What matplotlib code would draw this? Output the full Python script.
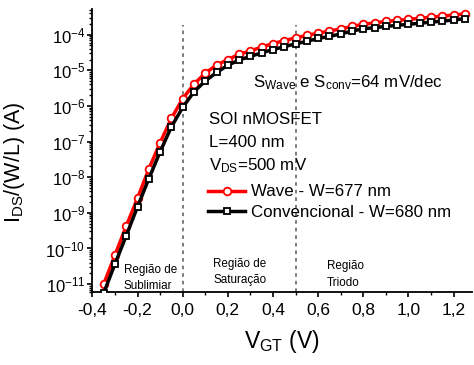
import numpy as np
import matplotlib
matplotlib.use("Agg")
import matplotlib.pyplot as plt
from matplotlib.ticker import FuncFormatter, MultipleLocator, FixedLocator, NullFormatter

plt.rcParams['font.family'] = ['Liberation Sans', 'DejaVu Sans']
plt.rcParams['mathtext.fontset'] = 'custom'
plt.rcParams['mathtext.rm'] = 'Liberation Sans'
plt.rcParams['mathtext.it'] = 'Liberation Sans:italic'
plt.rcParams['mathtext.bf'] = 'Liberation Sans:bold'
plt.rcParams['axes.unicode_minus'] = False

# Gate overdrive voltage (V)
vgt = [-0.35, -0.30, -0.25, -0.20, -0.15, -0.10, -0.05, 0.00, 0.05, 0.10,
       0.15, 0.20, 0.25, 0.30, 0.35, 0.40, 0.45, 0.50, 0.55, 0.60,
       0.65, 0.70, 0.75, 0.80, 0.85, 0.90, 0.95, 1.00, 1.05, 1.10,
       1.15, 1.20, 1.25]

# Normalised drain current I_DS/(W/L) (A)
ids_wave = [1.0e-11, 6.5e-11, 4.3e-10, 2.6e-9, 1.7e-8, 9.3e-8, 4.5e-7, 1.6e-6,
            4.1e-6, 8.3e-6, 1.4e-5, 2.0e-5, 2.8e-5, 3.5e-5, 4.5e-5, 5.6e-5,
            6.8e-5, 8.1e-5, 9.5e-5, 1.10e-4, 1.26e-4, 1.45e-4, 1.70e-4, 1.95e-4,
            2.14e-4, 2.34e-4, 2.51e-4, 2.69e-4, 2.88e-4, 3.09e-4, 3.31e-4,
            3.55e-4, 3.80e-4]
ids_conv = [5.6e-12, 3.7e-11, 2.3e-10, 1.5e-9, 9.1e-9, 5.2e-8, 2.6e-7, 9.1e-7,
            2.5e-6, 5.0e-6, 8.7e-6, 1.38e-5, 1.95e-5, 2.45e-5, 3.1e-5, 3.8e-5,
            4.6e-5, 5.5e-5, 6.5e-5, 7.8e-5, 8.9e-5, 1.05e-4, 1.26e-4, 1.45e-4,
            1.58e-4, 1.70e-4, 1.82e-4, 1.95e-4, 2.09e-4, 2.24e-4, 2.40e-4,
            2.57e-4, 2.82e-4]

label_wave = 'Wave - W=677 nm'
label_conv = 'Convencional - W=680 nm'
region_bounds = [0.0, 0.5]
region_line_top = 1.9e-4

y_lo, y_hi = 6e-12, 5.2e-4
y_decades = [1e-11, 1e-10, 1e-9, 1e-8, 1e-7, 1e-6, 1e-5, 1e-4]

fig = plt.figure(figsize=(4.74, 3.65), dpi=100)
ax = fig.add_axes([0.195, 0.2, 0.80, 0.775])

ax.plot(vgt, ids_wave, color='#ff0000', lw=2.5, marker='o', ms=5.5,
        mfc='white', mec='#ff0000', mew=1.3, label=label_wave, zorder=3)
ax.plot(vgt, ids_conv, color='black', lw=2.5, marker='s', ms=5,
        mfc='white', mec='black', mew=1.3, label=label_conv, zorder=4)

ax.set_yscale('log')
ax.set_xlim(-0.40, 1.28)
ax.set_ylim(y_lo, y_hi)

# dotted boundaries between operating regions
top_frac = (np.log10(region_line_top) - np.log10(y_lo)) / (np.log10(y_hi) - np.log10(y_lo))
for xb in region_bounds:
    ax.axvline(xb, ymin=0, ymax=top_frac, color='#707070', lw=1.3,
               ls=(0, (2, 2.2)), zorder=2)

ax.xaxis.set_major_locator(MultipleLocator(0.2))
ax.xaxis.set_minor_locator(MultipleLocator(0.1))
ax.xaxis.set_major_formatter(FuncFormatter(lambda v, p: ('%.1f' % v).replace('.', ',').replace('-0,0', '0,0')))

minor_y = [k * d for d in [1e-12] + y_decades for k in range(2, 10)
           if y_lo <= k * d <= y_hi]
ax.yaxis.set_major_locator(FixedLocator(y_decades))
ax.yaxis.set_minor_locator(FixedLocator(minor_y))
ax.yaxis.set_major_formatter(FuncFormatter(lambda v, p: r'$10^{%d}$' % round(np.log10(v))))
ax.yaxis.set_minor_formatter(NullFormatter())

for s in ['top', 'right']:
    ax.spines[s].set_visible(False)
for s in ['left', 'bottom']:
    ax.spines[s].set_linewidth(1.3)

ax.tick_params(which='major', direction='out', length=3.5, width=1.2)
ax.tick_params(which='minor', direction='out', length=2.2, width=1.0)
ax.tick_params(axis='x', which='major', labelsize=12.5, pad=4.5)
ax.tick_params(axis='y', which='major', labelsize=12, pad=1.5)

ax.set_xlabel(r'V$_{\mathrm{GT}}$ (V)', fontsize=16.5, labelpad=7)
ax.set_ylabel(r'I$_{\mathrm{DS}}$/(W/L) (A)', fontsize=15.5)
ax.yaxis.set_label_coords(-0.172, 0.46)

ax.text(0.31, 3.3e-6, r'S$_{\mathrm{Wave}}$ e S$_{\mathrm{conv}}$=64 mV/dec', fontsize=12.2)
ax.text(0.115, 3.1e-7, 'SOI nMOSFET', fontsize=12.2)
ax.text(0.115, 7.0e-8, 'L=400 nm', fontsize=12.2)
ax.text(0.115, 1.6e-8, r'V$_{\mathrm{DS}}$=500 mV', fontsize=12.2)

ax.legend(loc='upper left', bbox_to_anchor=(0.283, 0.41), frameon=False,
          fontsize=12.2, handlelength=2.2, handletextpad=0.3,
          borderpad=0, labelspacing=0.3)

region_labels = [
    (-0.262, 2.1e-11, 'Região de'), (-0.262, 7.1e-12, 'Sublimiar'),
    (0.136, 2.95e-11, 'Região de'), (0.136, 1.05e-11, 'Saturação'),
    (0.639, 2.6e-11, 'Região'), (0.639, 8.8e-12, 'Triodo'),
]
for xr, yr, txt in region_labels:
    ax.text(xr, yr, txt, fontsize=8.4, va='baseline')

fig.savefig('out.png', dpi=100)
